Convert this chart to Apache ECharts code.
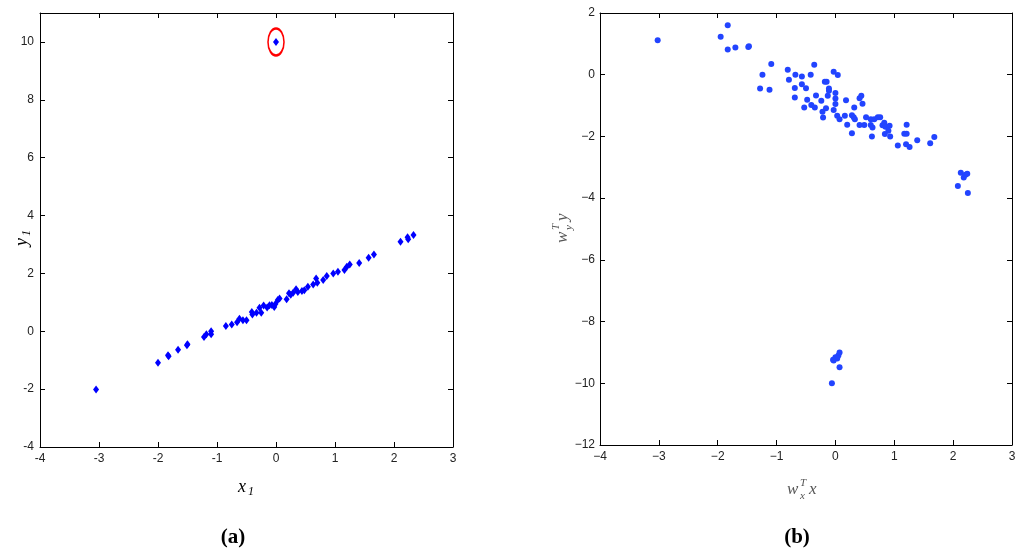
<!DOCTYPE html>
<html>
<head>
<meta charset="utf-8">
<script src="https://cdn.jsdelivr.net/npm/echarts@6/dist/echarts.min.js"></script>
<style>html,body{margin:0;padding:0;background:#fff;}#c{width:1024px;height:554px;}</style>
</head>
<body>
<div id="c"></div>
<script>
// Panel (a): x1 vs y1
const aX = [-3.05,-2.0,-1.83,-1.82,-1.66,-1.50,-1.51,-1.22,-1.18,-1.10,-1.10,-0.85,-0.75,-0.66,-0.62,-0.56,-0.50,-0.41,-0.40,-0.33,-0.28,-0.25,-0.21,-0.15,-0.11,-0.07,-0.03,-0.01,0.03,0.06,0.18,0.22,0.25,0.29,0.34,0.37,0.44,0.48,0.54,0.63,0.68,0.70,0.80,0.86,0.97,1.05,1.16,1.20,1.25,1.41,1.57,1.66,2.11,2.23,2.24,2.33];
const aY = [-2.01,-1.09,-0.83,-0.86,-0.64,-0.45,-0.48,-0.20,-0.10,0.00,-0.10,0.18,0.23,0.31,0.43,0.38,0.38,0.67,0.58,0.64,0.81,0.64,0.89,0.82,0.90,0.91,0.84,0.94,1.08,1.13,1.11,1.31,1.26,1.33,1.45,1.36,1.39,1.42,1.54,1.62,1.82,1.68,1.77,1.91,2.00,2.06,2.12,2.23,2.31,2.36,2.54,2.65,3.09,3.25,3.18,3.33];
const aOutlier = [0, 10];

// Panel (b): w_x^T x vs w_y^T y
const bX = [-3.02,-1.95,-1.83,-1.83,-1.70,-1.48,-1.47,-1.09,-1.24,-1.28,-1.12,-0.81,-0.79,-0.68,-0.69,-0.69,-0.57,-0.57,-0.50,-0.53,-0.48,-0.42,-0.36,-0.41,-0.35,-0.33,-0.24,-0.22,-0.21,-0.18,-0.15,-0.16,-0.13,-0.11,-0.11,-0.03,0.04,0.00,0.00,0.00,-0.03,0.03,0.07,0.16,0.18,0.20,0.28,0.28,0.31,0.32,0.33,0.41,0.44,0.46,0.41,0.49,0.52,0.60,0.60,0.62,0.63,0.66,0.72,0.76,0.80,0.83,0.84,0.85,0.90,0.92,0.93,1.06,1.21,1.17,1.21,1.20,1.26,1.39,1.61,1.68,2.08,2.13,2.18,2.24,2.25,2.21,-0.06,-0.03,0.00,0.05,0.07,0.07,0.03,-0.04];
const bY = [1.12,1.23,1.60,0.82,0.88,0.90,0.92,0.35,0.00,-0.45,-0.49,0.16,-0.16,0.00,-0.43,-0.74,-0.06,-0.31,-0.44,-1.06,-0.81,0.00,0.32,-0.98,-1.06,-0.67,-0.84,-1.20,-1.39,-0.23,-0.23,-1.09,-0.68,-0.52,-0.45,0.10,-0.01,-0.59,-0.77,-0.95,-1.14,-1.33,-1.44,-1.33,-0.83,-1.62,-1.90,-1.31,-1.38,-1.06,-1.44,-0.76,-0.68,-0.94,-1.63,-1.63,-1.38,-1.63,-1.44,-2.00,-1.71,-1.44,-1.38,-1.38,-1.64,-1.56,-1.92,-1.69,-1.82,-1.65,-2.00,-2.29,-1.62,-1.91,-1.91,-2.25,-2.34,-2.12,-2.22,-2.02,-3.61,-3.18,-3.33,-3.21,-3.83,-3.24,-10.0,-9.26,-9.16,-9.10,-9.00,-9.48,-9.20,-9.24];

const xTicksA = {min:-4, max:3, interval:1};
const yTicksA = {min:-4, max:11, interval:2};
const xTicksB = {min:-4, max:3, interval:1};
const yTicksB = {min:-12, max:2, interval:2};

const chart = echarts.init(document.getElementById('c'), null, {renderer:'canvas'});

const lineStyle = {color:'#000', width:1};
function ax(t, grid, pos, showLabel, labelOpt) {
  return {
    type:'value', gridIndex:grid, position:pos, min:t.min, max:t.max, interval:t.interval,
    axisLine:{show:true, onZero:false, lineStyle:lineStyle},
    axisTick:{show:true, inside:true, length:5, lineStyle:lineStyle},
    splitLine:{show:false},
    axisLabel:Object.assign({show:showLabel, color:'#222', fontFamily:'Liberation Sans', fontSize:12}, labelOpt||{})
  };
}
const fmtA = v => (v === 11 ? '' : String(v));
const fmtB = v => String(v).replace('-', '\u2212');

const ptsA = aX.map((x,i)=>[x, aY[i]]);
const ptsB = bX.map((x,i)=>[x, bY[i]]);

function mathLabel(x, y, rot, parts, color) {
  // parts: [text, fontSize, dx, dy]
  return {
    type:'group', x:x, y:y, rotation:rot,
    children: parts.map(p => ({
      type:'text', x:p[2], y:p[3],
      style:{text:p[0], font:'italic '+p[1]+'px "Liberation Serif"', fill:color, textAlign:'left', textVerticalAlign:'middle'}
    }))
  };
}

chart.setOption({
  animation:false,
  grid:[
    {left:40, top:13, width:413, height:434},
    {left:600, top:13, width:412, height:432}
  ],
  xAxis:[
    ax(xTicksA,0,'bottom',true,{margin:6, formatter:fmtA}),
    ax(xTicksA,0,'top',false),
    ax(xTicksB,1,'bottom',true,{margin:6, formatter:fmtB}),
    ax(xTicksB,1,'top',false)
  ],
  yAxis:[
    ax(yTicksA,0,'left',true,{margin:6, formatter:fmtA}),
    ax(yTicksA,0,'right',false),
    ax(yTicksB,1,'left',true,{margin:5, formatter:fmtB}),
    ax(yTicksB,1,'right',false)
  ],
  series:[
    {type:'scatter', xAxisIndex:0, yAxisIndex:0, data:[aOutlier], symbol:'circle', symbolSize:[16,27],
     itemStyle:{color:'rgba(255,255,255,0)', borderColor:'#ff0000', borderWidth:2, opacity:1}, z:2},
    {type:'scatter', xAxisIndex:0, yAxisIndex:0, data:ptsA.concat([aOutlier]), symbol:'diamond', symbolSize:[6,8],
     itemStyle:{color:'#0000ff', opacity:1}, z:3},
    {type:'scatter', xAxisIndex:2, yAxisIndex:2, data:ptsB, symbol:'circle', symbolSize:6,
     itemStyle:{color:'#2244ff', opacity:1}, z:3}
  ],
  graphic:[
    mathLabel(238, 487, 0, [['x',18,0,0],['1',12,10,5]], '#000'),
    mathLabel(22, 246, Math.PI/2, [['y',18,0,0],['1',12,10,5]], '#000'),
    mathLabel(787, 490, 0, [['w',17,0,0],['T',11,13,-7],['x',11,13,6],['x',17,22,0]], '#555'),
    mathLabel(563, 243, Math.PI/2, [['w',17,0,0],['T',11,13,-7],['y',11,13,6],['y',17,22,0]], '#555'),
    {type:'text', x:233, y:538, style:{text:'(a)', font:'bold 21px "Liberation Serif"', fill:'#000', textAlign:'center', textVerticalAlign:'middle'}},
    {type:'text', x:797, y:538, style:{text:'(b)', font:'bold 21px "Liberation Serif"', fill:'#000', textAlign:'center', textVerticalAlign:'middle'}}
  ]
});
</script>
</body>
</html>
